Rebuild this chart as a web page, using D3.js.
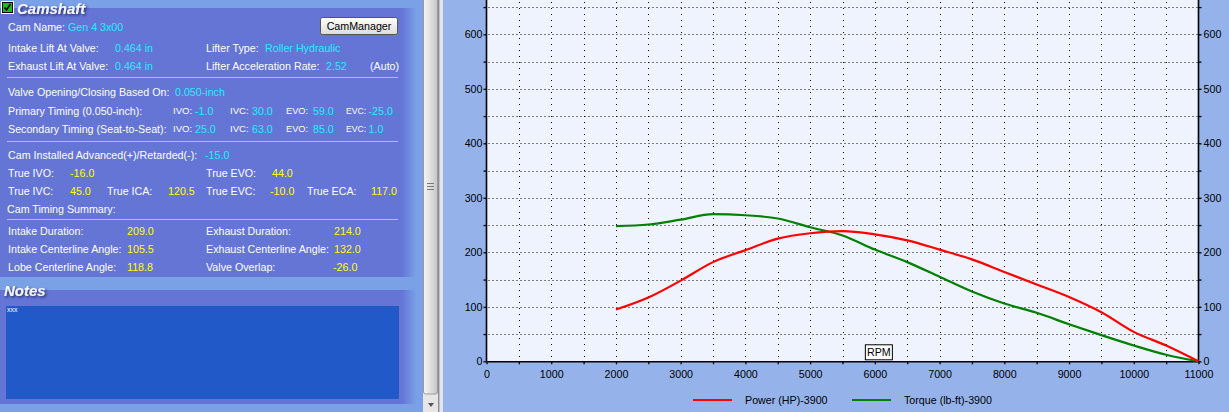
<!DOCTYPE html>
<html>
<head>
<meta charset="utf-8">
<script src="https://cdn.jsdelivr.net/npm/d3@7"></script>
<style>
  html, body { margin: 0; padding: 0; background: #95b3ea; overflow: hidden; }
  text { font-family: "Liberation Sans", Arial, sans-serif; font-size: 10.7px; }
</style>
</head>
<body>
<div id="main"></div>
<script>
// chart data
const rpm = [2000, 2500, 3000, 3500, 4000, 4500, 5000, 5500, 6000, 6500, 7000, 7500, 8000, 8500, 9000, 9500, 10000, 10500, 11000];
const powerHp = [95, 117, 148, 182, 204, 225, 235, 239, 233, 222, 205, 187, 164, 141, 118, 90, 54, 29, 0];
const torqueLbFt = [248, 251, 260, 270, 268, 262, 246, 231, 205, 182, 155, 128, 106, 89, 68, 48, 29, 12, 0];
const seriesNames = ["Power (HP)-3900", "Torque (lb-ft)-3900"];
const xTicks = d3.range(0, 11001, 500);
const yTicks = d3.range(0, 651, 50);

// camshaft panel rows: [x, text, colour, optional font size]
const camRows = [
  { y: 27, items: [[8, "Cam Name:", "w"], [68, "Gen 4 3x00", "c"]] },
  { y: 48, items: [[8, "Intake Lift At Valve:", "w"], [115, "0.464 in", "c"], [206, "Lifter Type:", "w"], [265, "Roller Hydraulic", "c"]] },
  { y: 66, items: [[8, "Exhaust Lift At Valve:", "w"], [115, "0.464 in", "c"], [206, "Lifter Acceleration Rate:", "w"], [326, "2.52", "c"], [370, "(Auto)", "w"]] },
  { y: 92, items: [[8, "Valve Opening/Closing Based On:", "w"], [175, "0.050-inch", "c"]] },
  { y: 111, items: [[8, "Primary Timing  (0.050-inch):", "w"], [173, "IVO:", "w", 9.6], [195, "-1.0", "c"], [230, "IVC:", "w", 9.6], [252, "30.0", "c"], [286, "EVO:", "w", 9.2], [313, "59.0", "c"], [346, "EVC:", "w", 8.6], [368.5, "-25.0", "c"]] },
  { y: 129, items: [[8, "Secondary Timing  (Seat-to-Seat):", "w"], [173, "IVO:", "w", 9.6], [195, "25.0", "c"], [230, "IVC:", "w", 9.6], [252, "63.0", "c"], [286, "EVO:", "w", 9.2], [313, "85.0", "c"], [346, "EVC:", "w", 8.6], [368.5, "1.0", "c"]] },
  { y: 155, items: [[8, "Cam Installed Advanced(+)/Retarded(-):", "w"], [205, "-15.0", "c"]] },
  { y: 173, items: [[8, "True IVO:", "w"], [70, "-16.0", "y"], [206, "True EVO:", "w"], [272, "44.0", "y"]] },
  { y: 191, items: [[8, "True IVC:", "w"], [70, "45.0", "y"], [107, "True ICA:", "w"], [168, "120.5", "y"], [206, "True EVC:", "w"], [270, "-10.0", "y"], [307, "True ECA:", "w"], [371, "117.0", "y"]] },
  { y: 209, items: [[7, "Cam Timing Summary:", "w"]] },
  { y: 231, items: [[8, "Intake Duration:", "w"], [127, "209.0", "y"], [206, "Exhaust Duration:", "w"], [334, "214.0", "y"]] },
  { y: 249, items: [[8, "Intake Centerline Angle:", "w"], [127, "105.5", "y"], [206, "Exhaust Centerline Angle:", "w"], [334, "132.0", "y"]] },
  { y: 267, items: [[8, "Lobe Centerline Angle:", "w"], [127, "118.8", "y"], [206, "Valve Overlap:", "w"], [333, "-26.0", "y"]] }
];
const separators = [77, 141, 219];
const textColours = { w: "#ffffff", c: "#22eeff", y: "#ffff00" };

const ctx = {
  W: 1229,
  H: 412,
  plotL: 486.5,
  plotR: 1198.5,
  plotT: 0,
  plotB: 361.3,
  panelBody: "#6475d6",
  panelLight: "#7aa0e6",
  plotBg: "#eef3fe",
};

function createDefs(svg) {
  const defs = svg.append("defs");
  const edge = defs.append("linearGradient").attr("id", "edgeFade");
  edge.append("stop").attr("offset", "0%").attr("stop-color", ctx.panelBody);
  edge.append("stop").attr("offset", "100%").attr("stop-color", ctx.panelLight);

  const scroll = defs.append("linearGradient").attr("id", "scrollGrad");
  scroll.append("stop").attr("offset", "0%").attr("stop-color", "#f4f4f4");
  scroll.append("stop").attr("offset", "45%").attr("stop-color", "#e2e2e2");
  scroll.append("stop").attr("offset", "100%").attr("stop-color", "#c4c4c4");

  const btn = defs.append("linearGradient").attr("id", "btnGrad").attr("x2", 0).attr("y2", 1);
  btn.append("stop").attr("offset", "0%").attr("stop-color", "#ffffff");
  btn.append("stop").attr("offset", "100%").attr("stop-color", "#dcdcdc");

  const sh = defs.append("filter").attr("id", "titleShadow")
    .attr("x", "-20%").attr("y", "-40%").attr("width", "150%").attr("height", "200%");
  sh.append("feDropShadow").attr("dx", 1.5).attr("dy", 1.5).attr("stdDeviation", 1.2)
    .attr("flood-color", "#1a2660").attr("flood-opacity", 0.9);
}

function createCamPanel(svg) {
  const g = svg.append("g").attr("id", "camPanel");

  // light strips and panel bodies
  g.append("rect").attr("x", 0).attr("y", 0).attr("width", 423).attr("height", ctx.H).attr("fill", ctx.panelLight);
  g.append("rect").attr("x", 0).attr("y", 8).attr("width", 402).attr("height", 269).attr("fill", ctx.panelBody);
  g.append("rect").attr("x", 402).attr("y", 8).attr("width", 14).attr("height", 269).attr("fill", "url(#edgeFade)");
  g.append("rect").attr("x", 0).attr("y", 290).attr("width", 402).attr("height", 114).attr("fill", ctx.panelBody);
  g.append("rect").attr("x", 402).attr("y", 290).attr("width", 14).attr("height", 114).attr("fill", "url(#edgeFade)");

  // checkbox
  g.append("rect").attr("x", 1.5).attr("y", 1.5).attr("width", 12).attr("height", 12)
    .attr("fill", "#000").attr("stroke", "#ffffff").attr("stroke-width", 1);
  g.append("rect").attr("x", 3).attr("y", 3).attr("width", 9).attr("height", 9).attr("fill", "#12c412");
  g.append("path").attr("d", "M4.5,7.5 L6.5,10 L10.5,4").attr("fill", "none")
    .attr("stroke", "#000").attr("stroke-width", 1.6);

  g.append("text").attr("x", 17).attr("y", 13.5)
    .style("font-size", "15px").style("font-weight", "bold").style("font-style", "italic")
    .attr("fill", "#f4f6ff").attr("filter", "url(#titleShadow)")
    .text("Camshaft");

  // CamManager button
  g.append("rect").attr("x", 320.5).attr("y", 17.5).attr("width", 77).attr("height", 17).attr("rx", 2)
    .attr("fill", "url(#btnGrad)").attr("stroke", "#555").attr("stroke-width", 1);
  g.append("text").attr("x", 359).attr("y", 26.5).attr("dy", "0.35em").attr("text-anchor", "middle")
    .attr("fill", "#000").text("CamManager");

  g.selectAll("line.sep").data(separators).enter().append("line")
    .attr("class", "sep")
    .attr("x1", 7).attr("x2", 398)
    .attr("y1", d => d + 0.5).attr("y2", d => d + 0.5)
    .attr("stroke", "#b6bcd6").attr("stroke-width", 1);

  const rows = g.selectAll("g.row").data(camRows).enter().append("g").attr("class", "row");
  const txt = rows.selectAll("text")
    .data(d => d.items.map(it => ({ x: it[0], t: it[1], c: it[2], fs: it[3], y: d.y })))
    .enter().append("text")
    .attr("x", d => d.x).attr("y", d => d.y).attr("dy", "0.35em")
    .attr("fill", d => textColours[d.c])
    .text(d => d.t);
  txt.filter(d => d.fs).style("font-size", d => d.fs + "px");

  // notes
  g.append("text").attr("x", 4).attr("y", 295.5)
    .style("font-size", "15px").style("font-weight", "bold").style("font-style", "italic")
    .attr("fill", "#f4f6ff").attr("filter", "url(#titleShadow)")
    .text("Notes");
  g.append("rect").attr("x", 6).attr("y", 306).attr("width", 393).attr("height", 93).attr("fill", "#2159c9");
  g.append("text").attr("x", 7).attr("y", 312).style("font-size", "7px").attr("fill", "#ffffff").text("xxx");
}

function createScrollBar(svg) {
  const g = svg.append("g").attr("id", "scroll");
  g.append("rect").attr("x", 423).attr("y", 0).attr("width", 15).attr("height", ctx.H).attr("fill", "#e6e6e6");
  g.append("rect").attr("x", 423.5).attr("y", -3).attr("width", 14).attr("height", 397).attr("rx", 2)
    .attr("fill", "url(#scrollGrad)").attr("stroke", "#9a9a9a");
  g.selectAll("line.grip").data([183, 186, 189]).enter().append("line")
    .attr("class", "grip")
    .attr("x1", 427).attr("x2", 434).attr("y1", d => d + 0.5).attr("y2", d => d + 0.5)
    .attr("stroke", "#777");
  g.append("path").attr("d", "M428,403 L434,403 L431,407 Z").attr("fill", "#555");
  g.append("rect").attr("x", 438).attr("y", 0).attr("width", 1.5).attr("height", ctx.H).attr("fill", "#8c8c8c");
  g.append("rect").attr("x", 439.5).attr("y", 0).attr("width", 3.5).attr("height", ctx.H).attr("fill", "#e4e4ec");
}

function createChart(svg) {
  const x = d3.scaleLinear().domain([0, 11000]).range([ctx.plotL, ctx.plotR]);
  const y = d3.scaleLinear().domain([0, 663]).range([ctx.plotB, ctx.plotT]);

  const g = svg.append("g").attr("id", "chart");
  g.append("rect").attr("x", ctx.plotL).attr("y", ctx.plotT)
    .attr("width", ctx.plotR - ctx.plotL).attr("height", ctx.plotB - ctx.plotT)
    .attr("fill", ctx.plotBg);

  // dotted grid
  g.append("g").selectAll("line").data(yTicks.filter(d => d > 0)).enter().append("line")
    .attr("x1", ctx.plotL + 2).attr("x2", ctx.plotR)
    .attr("y1", d => Math.round(y(d)) + 0.5).attr("y2", d => Math.round(y(d)) + 0.5)
    .attr("stroke", "#000").attr("stroke-dasharray", "1,3");
  g.append("g").selectAll("line").data(xTicks.filter(d => d > 0 && d < 11000)).enter().append("line")
    .attr("x1", d => Math.round(x(d)) + 0.5).attr("x2", d => Math.round(x(d)) + 0.5)
    .attr("y1", ctx.plotT + 2).attr("y2", ctx.plotB)
    .attr("stroke", "#000").attr("stroke-dasharray", "1,5");

  const fmtY = d => (d % 100 === 0 ? d : "");
  const fmtX = d => (d % 1000 === 0 ? d : "");

  const yl = g.append("g").attr("transform", `translate(${ctx.plotL},0)`)
    .call(d3.axisLeft(y).tickValues(yTicks).tickFormat(fmtY).tickSize(3).tickSizeOuter(0).tickPadding(1));
  const yr = g.append("g").attr("transform", `translate(${ctx.plotR},0)`)
    .call(d3.axisRight(y).tickValues(yTicks).tickFormat(fmtY).tickSize(3).tickSizeOuter(0).tickPadding(2));
  const xb = g.append("g").attr("transform", `translate(0,${ctx.plotB})`)
    .call(d3.axisBottom(x).tickValues(xTicks).tickFormat(fmtX).tickSize(3).tickSizeOuter(0).tickPadding(6));

  [yl, yr, xb].forEach(a => {
    a.select(".domain").attr("stroke", "#000").attr("stroke-width", 1.6);
    a.selectAll(".tick line").attr("stroke", "#000").attr("stroke-width", 1.3);
    a.selectAll("text").attr("fill", "#000")
      .style("font-family", "'Liberation Sans', Arial, sans-serif").style("font-size", "10.7px");
  });
  // the domain of a scale cut at the top: extend axis lines up to the edge
  yl.select(".domain").attr("d", `M0,${ctx.plotT - 1}V${ctx.plotB}`);
  yr.select(".domain").attr("d", `M0,${ctx.plotT - 1}V${ctx.plotB}`);

  const line = d3.line().x(d => x(d[0])).y(d => y(d[1])).curve(d3.curveMonotoneX);
  const series = [
    { name: seriesNames[0], color: "#ff0000", values: rpm.map((r, i) => [r, powerHp[i]]) },
    { name: seriesNames[1], color: "#008000", values: rpm.map((r, i) => [r, torqueLbFt[i]]) }
  ];
  g.selectAll("path.series").data(series.slice().reverse()).enter().append("path")
    .attr("class", "series")
    .attr("d", d => line(d.values))
    .attr("fill", "none")
    .attr("stroke", d => d.color)
    .attr("stroke-width", 2.2);

  // RPM label box
  const rb = g.append("g").attr("transform", `translate(${x(6000) - 10},${ctx.plotB - 17})`);
  rb.append("rect").attr("x", 0.5).attr("y", 0.5).attr("width", 27).attr("height", 15)
    .attr("fill", "#ffffff").attr("stroke", "#000");
  rb.append("text").attr("x", 14).attr("y", 8).attr("dy", "0.35em").attr("text-anchor", "middle")
    .attr("fill", "#000").text("RPM");

  // legend
  const lg = g.selectAll("g.legend").data(series).enter().append("g")
    .attr("class", "legend")
    .attr("transform", (d, i) => `translate(${693 + i * 159},400)`);
  lg.append("line").attr("x1", 0).attr("x2", 39).attr("y1", 0).attr("y2", 0)
    .attr("stroke", d => d.color).attr("stroke-width", 2);
  lg.append("text").attr("x", 52).attr("y", 0).attr("dy", "0.35em").attr("fill", "#000").text(d => d.name);
}

function createViz() {
  const svg = d3.select("#main").append("svg")
    .attr("width", ctx.W).attr("height", ctx.H)
    .style("display", "block");
  svg.append("rect").attr("width", ctx.W).attr("height", ctx.H).attr("fill", "#95b3ea");
  createDefs(svg);
  createChart(svg);
  createCamPanel(svg);
  createScrollBar(svg);
}

createViz();
</script>
</body>
</html>
